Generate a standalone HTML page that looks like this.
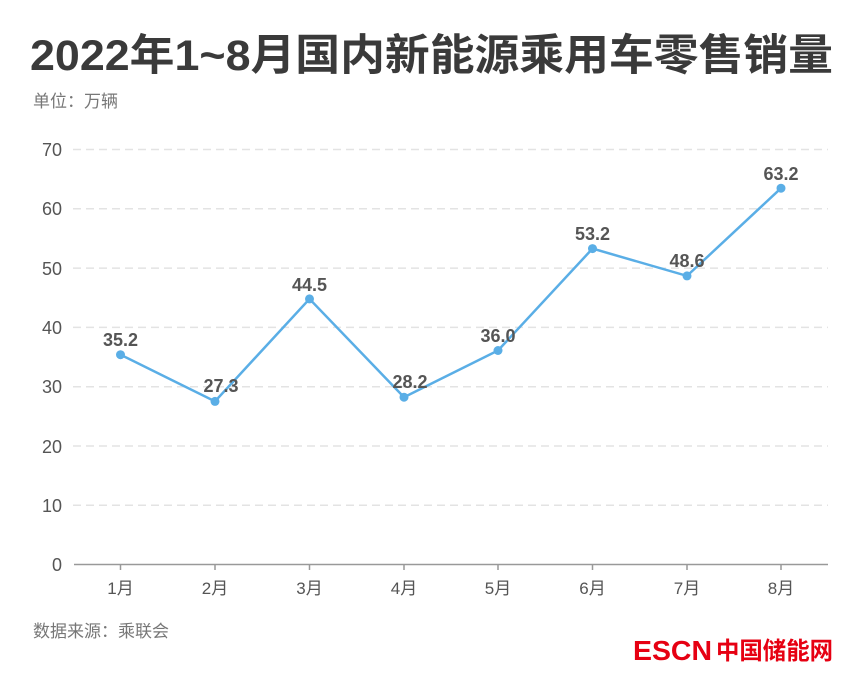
<!DOCTYPE html>
<html><head><meta charset="utf-8"><style>
body{margin:0;background:#fff;}
svg text{font-family:"Liberation Sans","Noto Sans CJK SC",sans-serif;}
</style></head><body>
<svg width="863" height="676" xmlns="http://www.w3.org/2000/svg">
<rect width="863" height="676" fill="#fff"/>
<text x="30" y="70" font-size="43" font-weight="bold" fill="#3a3a3a" textLength="803" lengthAdjust="spacingAndGlyphs">2022年1~8月国内新能源乘用车零售销量</text>
<text x="33" y="107" font-size="17" fill="#777">单位：万辆</text>
<g stroke="#e3e3e3" stroke-width="1.5" stroke-dasharray="8,5">
<line x1="73" y1="149.5" x2="828" y2="149.5"/>
<line x1="73" y1="208.8" x2="828" y2="208.8"/>
<line x1="73" y1="268.1" x2="828" y2="268.1"/>
<line x1="73" y1="327.4" x2="828" y2="327.4"/>
<line x1="73" y1="386.7" x2="828" y2="386.7"/>
<line x1="73" y1="446" x2="828" y2="446"/>
<line x1="73" y1="505.3" x2="828" y2="505.3"/>
</g>
<line x1="74" y1="564.5" x2="828" y2="564.5" stroke="#999" stroke-width="1.5"/>
<g stroke="#999" stroke-width="1.5">
<line x1="120.5" y1="564" x2="120.5" y2="570"/><line x1="215" y1="564" x2="215" y2="570"/>
<line x1="309.5" y1="564" x2="309.5" y2="570"/><line x1="404" y1="564" x2="404" y2="570"/>
<line x1="498" y1="564" x2="498" y2="570"/><line x1="592.5" y1="564" x2="592.5" y2="570"/>
<line x1="687" y1="564" x2="687" y2="570"/><line x1="781" y1="564" x2="781" y2="570"/>
</g>
<g font-size="18" fill="#555" text-anchor="end">
<text x="62" y="156">70</text><text x="62" y="215">60</text><text x="62" y="275">50</text>
<text x="62" y="334">40</text><text x="62" y="393">30</text><text x="62" y="453">20</text>
<text x="62" y="512">10</text><text x="62" y="571">0</text>
</g>
<g font-size="17" fill="#555" text-anchor="middle">
<text x="120.5" y="594">1月</text><text x="215" y="594">2月</text><text x="309.5" y="594">3月</text>
<text x="404" y="594">4月</text><text x="498" y="594">5月</text><text x="592.5" y="594">6月</text>
<text x="687" y="594">7月</text><text x="781" y="594">8月</text>
</g>
<polyline fill="none" stroke="#5aaee6" stroke-width="2.5" points="120.5,354.7 215,401.4 309.5,298.9 404,397.2 498,350.5 592.5,248.6 687,275.9 781,188.2"/>
<g fill="#5aaee6">
<circle cx="120.5" cy="354.7" r="4.5"/><circle cx="215" cy="401.4" r="4.5"/><circle cx="309.5" cy="298.9" r="4.5"/>
<circle cx="404" cy="397.2" r="4.5"/><circle cx="498" cy="350.5" r="4.5"/><circle cx="592.5" cy="248.6" r="4.5"/>
<circle cx="687" cy="275.9" r="4.5"/><circle cx="781" cy="188.2" r="4.5"/>
</g>
<g font-size="18" font-weight="bold" fill="#555" text-anchor="middle">
<text x="120.5" y="346">35.2</text><text x="221" y="392">27.3</text><text x="309.5" y="291">44.5</text>
<text x="410" y="388">28.2</text><text x="498" y="342">36.0</text><text x="592.5" y="240">53.2</text>
<text x="687" y="267">48.6</text><text x="781" y="180">63.2</text>
</g>
<text x="33" y="637" font-size="17" fill="#777">数据来源：乘联会</text>
<text x="633" y="660" font-size="28" font-weight="bold" fill="#e60012" textLength="79" lengthAdjust="spacingAndGlyphs">ESCN</text>
<text x="716" y="659" font-size="24" font-weight="bold" fill="#e60012" textLength="117" lengthAdjust="spacingAndGlyphs">中国储能网</text>
</svg>
</body></html>
